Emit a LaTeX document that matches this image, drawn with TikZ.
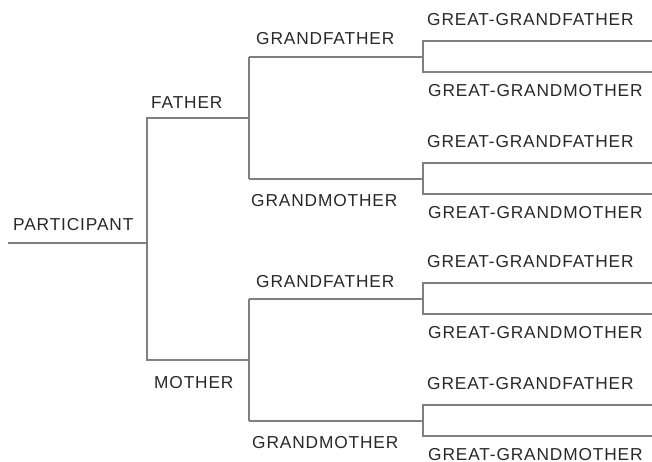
\documentclass[tikz,border=0pt]{standalone}
\usepackage{fontspec}
\newfontfamily\chartfont{Liberation Sans}[LetterSpace=5]
\usetikzlibrary{positioning, calc}
\definecolor{linegray}{RGB}{128,128,128}
\definecolor{textgray}{RGB}{40,40,40}

\begin{document}
\begin{tikzpicture}[
    x=1pt, y=-1pt,
    branch/.style={draw=linegray, line width=1.5pt},
    lbl/.style={anchor=west, inner sep=0pt, text=textgray, font=\chartfont\fontsize{17.3}{20}\selectfont}
]
    \useasboundingbox (0,0) rectangle (652,461);
    % participant and parents
    \coordinate (p0) at (8,243);
    \coordinate (p1) at (147,243);
    \coordinate (fa0) at (147,118);
    \coordinate (fa1) at (249,118);
    \coordinate (mo0) at (147,360);
    \coordinate (mo1) at (249,360);
    \draw[branch] (p0) -- (p1);
    \draw[branch] (fa1) -- (fa0) -- (mo0) -- (mo1);
    \node[lbl] (part) at (13,224.5) {PARTICIPANT};
    \node[lbl] (father) at (151,103) {FATHER};
    \node[lbl] (mother) at (154,383) {MOTHER};
    % grandparents with their great-grandparents
    \foreach \g/\y in {gf1/57, gm1/179, gf2/299, gm2/421} {
        \coordinate (\g-a) at (249,\y);
        \coordinate (\g-b) at (423,\y);
        \coordinate (\g-u) at (423,{\y-16});
        \coordinate (\g-d) at (423,{\y+15});
        \coordinate (\g-ue) at (652,{\y-16});
        \coordinate (\g-de) at (652,{\y+15});
        \draw[branch] (\g-a) -- (\g-b);
        \draw[branch] (\g-ue) -- (\g-u) -- (\g-d) -- (\g-de);
        \node[lbl] (\g-ggf) at (427,{\y-37.5}) {GREAT-GRANDFATHER};
        \node[lbl] (\g-ggm) at (428,{\y+33.5}) {GREAT-GRANDMOTHER};
    }
    \draw[branch] (gf1-a) -- (gm1-a);
    \draw[branch] (gf2-a) -- (gm2-a);
    \node[lbl] (gfa1) at (256,39) {GRANDFATHER};
    \node[lbl] (gma1) at (251,201) {GRANDMOTHER};
    \node[lbl] (gfa2) at (256,282) {GRANDFATHER};
    \node[lbl] (gma2) at (252,443) {GRANDMOTHER};
\end{tikzpicture}
\end{document}
